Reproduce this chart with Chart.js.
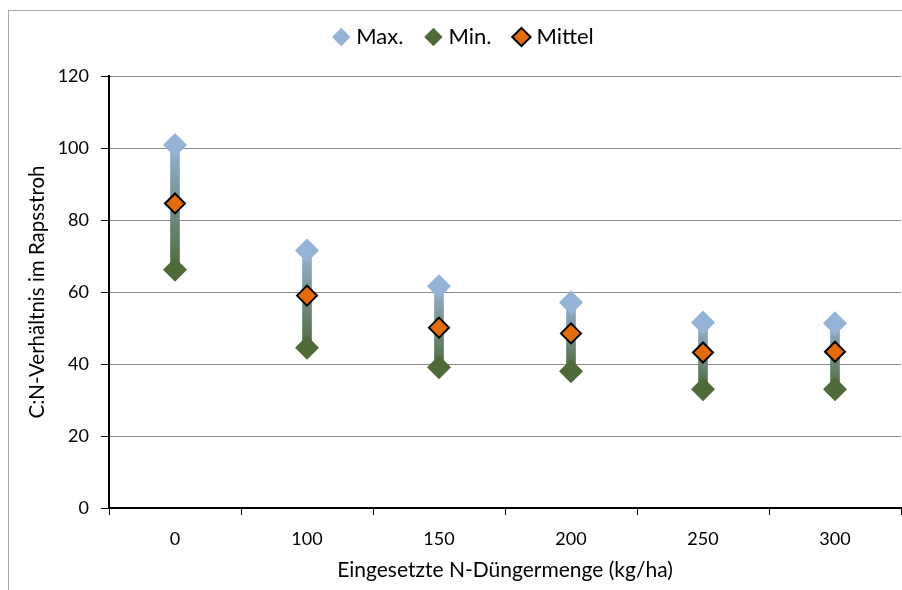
<!DOCTYPE html>
<html>
<head>
<meta charset="utf-8">
<script src="https://cdn.jsdelivr.net/npm/chart.js@4"></script>
<style>
  html, body { margin: 0; padding: 0; background: #fff; overflow: hidden; }
  #wrap { position: relative; width: 902px; height: 590px; }
  #frame { position: absolute; left: 8px; top: 10px; width: 1000px; height: 1000px;
           border: 1px solid #a6a6a6; box-sizing: border-box; pointer-events: none; }
</style>
</head>
<body>
<div id="wrap">
  <canvas id="myChart" width="902" height="590"></canvas>
  <div id="frame"></div>
</div>
<script>
// Data for the chart
const categories = ["0", "100", "150", "200", "250", "300"];
const maxValues = [100.8, 71.5, 61.6, 57.1, 51.5, 51.3];
const minValues = [66.2, 44.5, 39.1, 38.0, 33.0, 33.0];
const meanValues = [84.6, 59.0, 50.1, 48.5, 43.2, 43.4];
const yTicks = [0, 20, 40, 60, 80, 100, 120];

const FONT = "Lato, 'Open Sans', sans-serif";
const BLUE = "#95B3D7";
const GREEN = "#4F6A39";
const ORANGE = "#E46C0A";

Chart.defaults.font.family = FONT;
Chart.defaults.color = "#000";

// vertical gradient from max (blue) to min (green) for each bar
function barGradient(ctx) {
  const chart = ctx.chart;
  const y = chart.scales.y;
  if (!y || ctx.type !== "data" || !Array.isArray(ctx.raw)) return BLUE;
  const top = y.getPixelForValue(ctx.raw[1]);
  const bot = y.getPixelForValue(ctx.raw[0]);
  if (!isFinite(top) || !isFinite(bot) || top === bot) return BLUE;
  const g = chart.ctx.createLinearGradient(0, top, 0, bot);
  g.addColorStop(0, BLUE);
  g.addColorStop(1, GREEN);
  return g;
}

// extra room between legend and plot, legend row nudged right
const legendGap = {
  id: "legendGap",
  afterInit(chart) {
    const legend = chart.legend;
    if (!legend) return;
    const fit = legend.fit;
    legend.fit = function () {
      fit.call(this);
      this.height += 18;
      if (this.lineWidths) this.lineWidths = this.lineWidths.map((w) => w - 30);
    };
  },
};

const config = {
  type: "bar",
  data: {
    labels: categories,
    datasets: [
      {
        type: "line",
        label: "Max.",
        data: maxValues,
        showLine: false,
        pointStyle: "rectRot",
        pointRadius: 12,
        backgroundColor: BLUE,
        borderColor: BLUE,
        borderWidth: 0,
        pointBorderWidth: 0,
        order: 0,
      },
      {
        type: "line",
        label: "Min.",
        data: minValues,
        showLine: false,
        pointStyle: "rectRot",
        pointRadius: 12,
        backgroundColor: GREEN,
        borderColor: GREEN,
        borderWidth: 0,
        pointBorderWidth: 0,
        order: 0,
      },
      {
        type: "line",
        label: "Mittel",
        data: meanValues,
        showLine: false,
        pointStyle: "rectRot",
        pointRadius: 10,
        backgroundColor: ORANGE,
        borderColor: "#000",
        borderWidth: 2,
        pointBorderWidth: 2,
        order: 0,
      },
      {
        type: "bar",
        label: "range",
        data: minValues.map((v, i) => [v, maxValues[i]]),
        backgroundColor: barGradient,
        borderWidth: 0,
        barThickness: 9,
        order: 1,
      },
    ],
  },
  options: {
    responsive: false,
    animation: false,
    layout: { autoPadding: false, padding: { top: 0, right: 1, left: 0, bottom: 0 } },
    plugins: {
      tooltip: { enabled: false },
      legend: {
        position: "top",
        labels: {
          usePointStyle: true,
          boxWidth: 8,
          boxHeight: 13,
          padding: 26,
          font: { size: 22 },
          filter: (item) => item.text !== "range",
        },
      },
    },
    scales: {
      x: {
        offset: true,
        grid: { offset: true, drawOnChartArea: false, tickColor: "#000", tickLength: 7 },
        border: { color: "#000", width: 2 },
        ticks: { font: { size: 18 }, padding: 13 },
        title: {
          display: true,
          text: "Eingesetzte N-Düngermenge (kg/ha)",
          font: { size: 21 },
          padding: { top: 0, bottom: 7 },
        },
        afterFit: (axis) => {
          axis.height = 82;
          axis.paddingLeft = 0;
          axis.paddingRight = 0;
        },
      },
      y: {
        min: 0,
        max: 120,
        afterBuildTicks: (axis) => { axis.ticks = yTicks.map((v) => ({ value: v })); },
        grid: { color: "#8c8c8c", tickColor: "#000", tickLength: 8 },
        border: { color: "#000", width: 2 },
        ticks: { font: { size: 18 }, padding: 12 },
        title: {
          display: true,
          text: "C:N-Verhältnis im Rapsstroh",
          font: { size: 20.5 },
          padding: { top: 25, bottom: 0 },
        },
        afterFit: (axis) => { axis.width = 109; },
      },
    },
  },
  plugins: [legendGap],
};

const myChart = new Chart(document.getElementById("myChart"), config);
</script>
</body>
</html>
